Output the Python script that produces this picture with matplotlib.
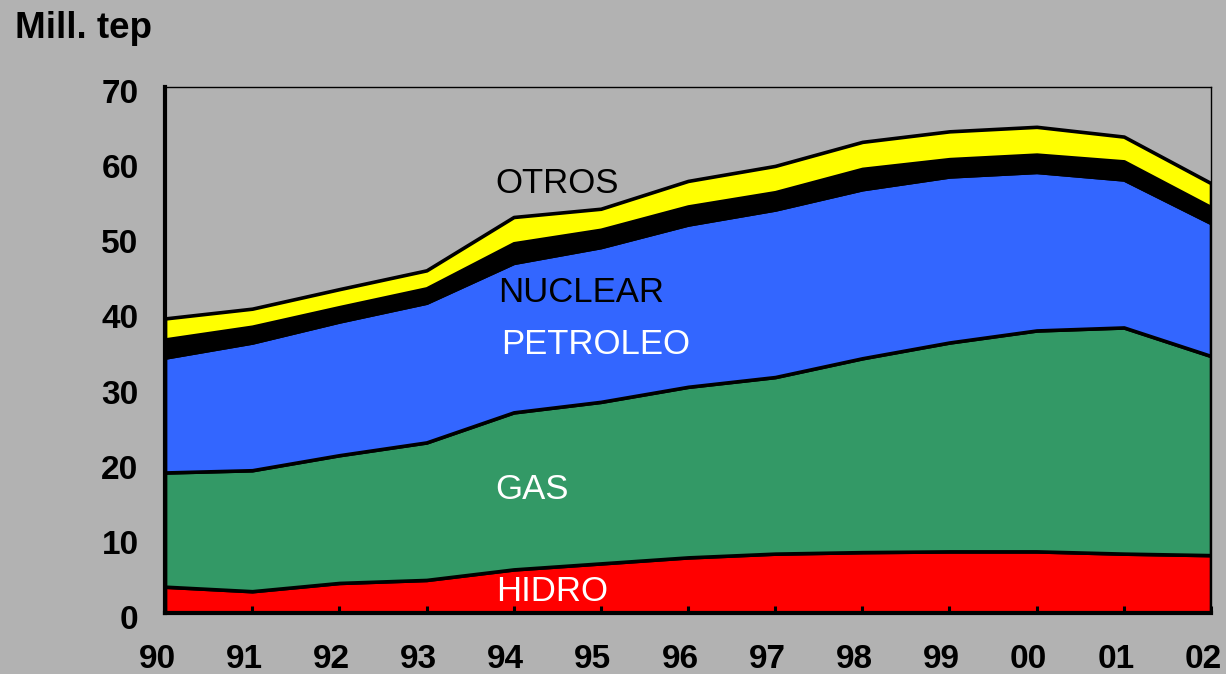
import numpy as np
import matplotlib
matplotlib.use('Agg')
import matplotlib.pyplot as plt
import matplotlib.transforms as mtransforms

plt.rcParams['font.family'] = ['Liberation Sans', 'DejaVu Sans']

# Data (Mill. tep)
years = ['90', '91', '92', '93', '94', '95', '96', '97', '98', '99', '00', '01', '02']
hidro = [3.5, 2.9, 4.0, 4.4, 5.8, 6.6, 7.4, 7.9, 8.1, 8.2, 8.2, 7.9, 7.7]
gas = [15.2, 16.1, 17.0, 18.3, 20.9, 21.5, 22.7, 23.5, 25.8, 27.8, 29.4, 30.1, 26.5]
petroleo = [15.3, 17.0, 17.8, 18.6, 19.9, 20.6, 21.6, 22.3, 22.5, 22.1, 21.1, 19.7, 17.7]
nuclear = [2.4, 2.1, 1.9, 1.9, 2.6, 2.3, 2.4, 2.3, 2.7, 2.3, 2.3, 2.4, 2.1]
otros = [2.8, 2.4, 2.4, 2.4, 3.5, 2.8, 3.4, 3.5, 3.6, 3.7, 3.7, 3.3, 3.2]

colors = ['#ff0000', '#339966', '#3366ff', '#000000', '#ffff00']
bg = '#b2b2b2'

fig = plt.figure(figsize=(12.26, 6.74), dpi=100, facecolor=bg)
ax = fig.add_axes([165 / 1226, 61 / 674, 1046 / 1226, 526 / 674], facecolor=bg)

x = np.arange(len(years))
ax.stackplot(x, hidro, gas, petroleo, nuclear, otros, colors=colors,
             edgecolor='black', linewidth=2.6)

ax.set_xlim(0, len(years) - 1)
ax.set_ylim(0, 70)
ax.set_yticks(range(0, 71, 10))
ax.set_xticks(x)
ax.set_xticklabels(years)

ax.tick_params(axis='x', direction='in', length=5, width=2.2, pad=22,
               labelsize=24)
ax.tick_params(axis='y', length=0, pad=19, labelsize=24)
for lab in ax.get_xticklabels() + ax.get_yticklabels():
    lab.set_fontweight('bold')

# small shifts like the original Excel labels
dx = mtransforms.ScaledTranslation(-8 / 100, 0, fig.dpi_scale_trans)
for lab in ax.get_xticklabels():
    lab.set_transform(lab.get_transform() + dx)
dy = mtransforms.ScaledTranslation(0, -4 / 100, fig.dpi_scale_trans)
for lab in ax.get_yticklabels():
    lab.set_transform(lab.get_transform() + dy)

for side in ['left', 'bottom']:
    ax.spines[side].set_linewidth(3)
for side in ['top', 'right']:
    ax.spines[side].set_linewidth(1)
ax.set_axisbelow(False)

# series labels
ax.text(3.79, 57.1, 'OTROS', fontsize=25, color='black', va='center')
ax.text(3.82, 42.7, 'NUCLEAR', fontsize=25, color='black', va='center')
ax.text(3.86, 35.7, 'PETROLEO', fontsize=25, color='white', va='center')
ax.text(3.79, 16.4, 'GAS', fontsize=25, color='white', va='center')
ax.text(3.80, 2.8, 'HIDRO', fontsize=25, color='white', va='center')

fig.text(15 / 1226, 1 - 28 / 674, 'Mill. tep', fontsize=26.5, fontweight='bold',
         va='center', ha='left')

fig.savefig('out.png', dpi=100, facecolor=bg)
